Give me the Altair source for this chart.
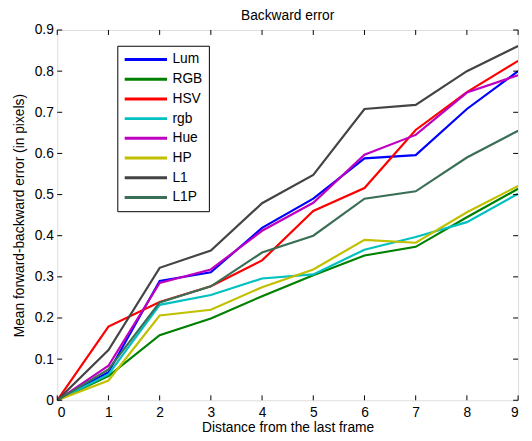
import altair as alt
import pandas as pd

x_vals = [0, 1, 2, 3, 4, 5, 6, 7, 8, 9]
series_names = ["Lum", "RGB", "HSV", "rgb", "Hue", "HP", "L1", "L1P"]
lum = [0, 0.068, 0.290, 0.311, 0.419, 0.490, 0.588, 0.596, 0.708, 0.800]
rgb_upper = [0, 0.059, 0.158, 0.199, 0.253, 0.304, 0.352, 0.373, 0.445, 0.514]
hsv = [0, 0.179, 0.239, 0.277, 0.340, 0.460, 0.516, 0.657, 0.749, 0.825]
rgb_lower = [0, 0.063, 0.232, 0.256, 0.296, 0.306, 0.366, 0.397, 0.433, 0.502]
hue = [0, 0.084, 0.285, 0.318, 0.412, 0.480, 0.597, 0.645, 0.748, 0.790]
hp = [0, 0.048, 0.206, 0.220, 0.275, 0.318, 0.390, 0.383, 0.457, 0.521]
l1 = [0, 0.122, 0.322, 0.364, 0.479, 0.548, 0.708, 0.718, 0.800, 0.861]
l1p = [0, 0.075, 0.238, 0.277, 0.359, 0.400, 0.490, 0.508, 0.590, 0.655]
colors = ["#0000ff", "#008000", "#ff0000", "#00c0c0", "#c000c0", "#c0c000", "#444444", "#3a6e55"]
x_ticks = [0, 1, 2, 3, 4, 5, 6, 7, 8, 9]
y_ticks = [0, 0.1, 0.2, 0.3, 0.4, 0.5, 0.6, 0.7, 0.8, 0.9]

all_series = [lum, rgb_upper, hsv, rgb_lower, hue, hp, l1, l1p]
rows = []
for name, vals in zip(series_names, all_series):
    for xv, yv in zip(x_vals, vals):
        rows.append({"x": xv, "y": yv, "method": name})
df = pd.DataFrame(rows)

W, H = 468, 376
FONT = "Liberation Sans"

xscale = alt.Scale(domain=[0, 9], nice=False, zero=False)
yscale = alt.Scale(domain=[0, 0.9], nice=False, zero=False)

lines = alt.Chart(df).mark_line(strokeWidth=2.2, clip=True).encode(
    x=alt.X("x:Q", scale=xscale,
            axis=alt.Axis(values=x_ticks, title="Distance from the last frame", grid=False,
                          ticks=False, labelFontSize=14, labelPadding=5, titleFontSize=14,
                          titleFontWeight="normal", titlePadding=2, domain=False,
                          labelFont=FONT, titleFont=FONT, labelColor="black", titleColor="black")),
    y=alt.Y("y:Q", scale=yscale,
            axis=alt.Axis(values=y_ticks, title="Mean forward-backward error (in pixels)", grid=False,
                          ticks=False, labelFontSize=14, labelPadding=4, titleFontSize=14,
                          titleFontWeight="normal", titlePadding=8, domain=False,
                          labelFont=FONT, titleFont=FONT, labelColor="black", titleColor="black",
                          labelExpr="datum.value == 0 ? '0' : format(datum.value, '.1f')")),
    color=alt.Color("method:N", sort=series_names,
                    scale=alt.Scale(domain=series_names, range=colors),
                    legend=alt.Legend(title=None, orient="none", legendX=61, legendY=16,
                                      symbolType="stroke", symbolSize=1849, symbolStrokeWidth=3,
                                      clipHeight=16, rowPadding=4,
                                      labelFontSize=14, labelFont=FONT, labelColor="black",
                                      strokeColor="black", padding=6,
                                      fillColor="white", labelOffset=4)),
    detail="method:N",
    order=alt.Order("x:Q"),
)

xt = pd.DataFrame({"t": x_ticks})
yt = pd.DataFrame({"t": y_ticks})
tick_style = dict(color="black", strokeWidth=1)
xb = alt.Chart(xt).mark_rule(**tick_style).encode(
    x=alt.X("t:Q", scale=xscale), y=alt.value(H), y2=alt.value(H - 5))
xtp = alt.Chart(xt).mark_rule(**tick_style).encode(
    x=alt.X("t:Q", scale=xscale), y=alt.value(0), y2=alt.value(5))
yl = alt.Chart(yt).mark_rule(**tick_style).encode(
    y=alt.Y("t:Q", scale=yscale), x=alt.value(0), x2=alt.value(5))
yr = alt.Chart(yt).mark_rule(**tick_style).encode(
    y=alt.Y("t:Q", scale=yscale), x=alt.value(W), x2=alt.value(W - 5))

chart = alt.layer(lines, xb, xtp, yl, yr).properties(
    width=W, height=H,
    title=alt.Title("Backward error", fontSize=14, fontWeight="normal", font=FONT, offset=0, color="black"),
    autosize=alt.AutoSizeParams(type="none"),
    padding={"left": 50, "top": 19, "right": 6, "bottom": 38},
).configure_view(stroke="black", strokeWidth=1).configure(background="white")

chart.save("out.html", embed_options={"renderer": "svg", "actions": False})
